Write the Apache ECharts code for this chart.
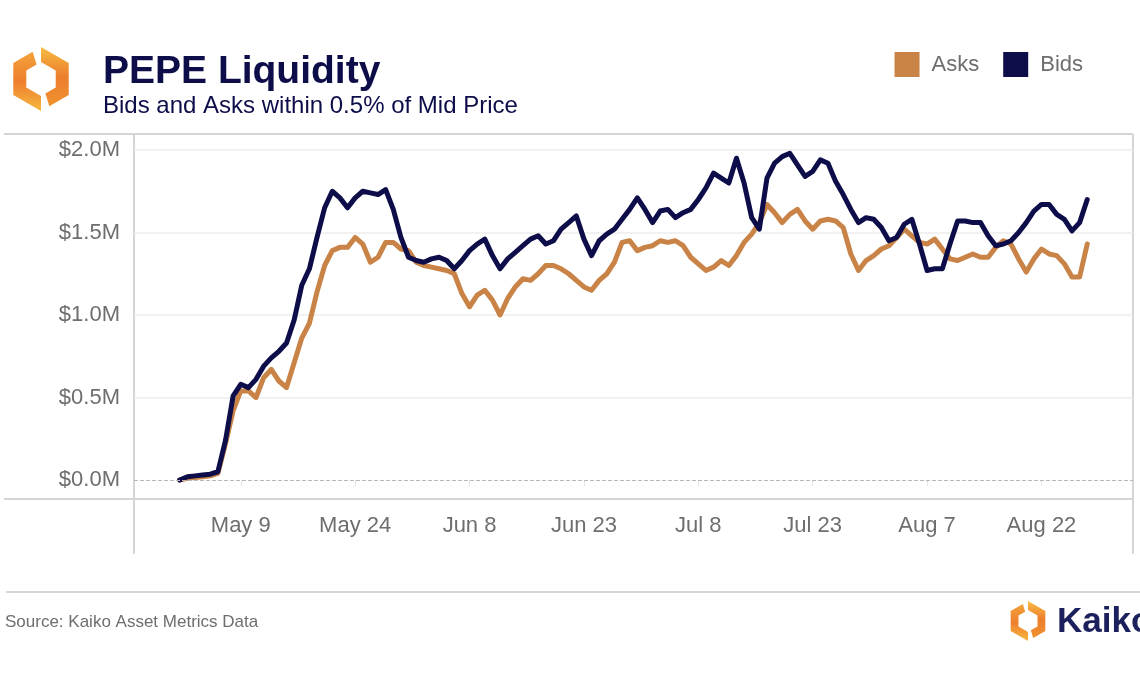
<!DOCTYPE html>
<html>
<head>
<meta charset="utf-8">
<script src="https://cdn.jsdelivr.net/npm/echarts@6/dist/echarts.min.js"></script>
<style>
html,body{margin:0;padding:0;background:#fff;}
#chart{width:1140px;height:694px;}
</style>
</head>
<body>
<div id="chart"></div>
<script>
// ---- Data (values in $M), daily from 2023-05-01 ----
const startDate = '2023-05-01';
const asks = [
  0.00,0.01,0.015,0.02,0.025,0.04,0.22,0.42,0.54,0.54,
  0.50,0.62,0.67,0.60,0.56,0.71,0.86,0.95,1.14,1.30,
  1.39,1.41,1.41,1.47,1.43,1.32,1.35,1.44,1.44,1.40,
  1.39,1.32,1.30,1.29,1.28,1.27,1.25,1.13,1.05,1.12,
  1.15,1.09,1.00,1.10,1.17,1.22,1.21,1.25,1.30,1.30,
  1.28,1.25,1.21,1.17,1.15,1.21,1.25,1.32,1.44,1.45,
  1.39,1.41,1.42,1.45,1.44,1.45,1.42,1.35,1.31,1.27,
  1.29,1.33,1.30,1.36,1.44,1.49,1.56,1.67,1.62,1.56,
  1.61,1.64,1.57,1.52,1.57,1.58,1.57,1.53,1.37,1.27,
  1.33,1.36,1.40,1.42,1.47,1.52,1.48,1.44,1.43,1.46,
  1.40,1.34,1.33,1.35,1.37,1.35,1.35,1.41,1.45,1.43,
  1.34,1.26,1.34,1.40,1.37,1.36,1.31,1.23,1.23,1.43
];
const bids = [
  0.00,0.02,0.025,0.03,0.035,0.05,0.24,0.51,0.58,0.56,
  0.61,0.69,0.74,0.78,0.83,0.97,1.18,1.28,1.47,1.65,
  1.75,1.71,1.65,1.71,1.75,1.74,1.73,1.76,1.64,1.47,
  1.35,1.33,1.32,1.34,1.35,1.33,1.28,1.33,1.39,1.43,
  1.46,1.36,1.28,1.34,1.38,1.42,1.46,1.48,1.43,1.45,
  1.52,1.56,1.60,1.46,1.36,1.45,1.49,1.52,1.58,1.64,
  1.71,1.64,1.56,1.63,1.64,1.59,1.62,1.64,1.70,1.77,
  1.86,1.83,1.80,1.95,1.80,1.59,1.52,1.83,1.92,1.96,
  1.98,1.91,1.84,1.87,1.94,1.92,1.81,1.73,1.64,1.56,
  1.59,1.58,1.53,1.45,1.47,1.55,1.58,1.43,1.27,1.28,
  1.28,1.43,1.57,1.57,1.56,1.56,1.48,1.42,1.43,1.45,
  1.50,1.56,1.63,1.67,1.67,1.61,1.58,1.51,1.56,1.70
];
const xTickDates = ['2023-05-09','2023-05-24','2023-06-08','2023-06-23','2023-07-08','2023-07-23','2023-08-07','2023-08-22'];
const xTickLabels = ['May 9','May 24','Jun 8','Jun 23','Jul 8','Jul 23','Aug 7','Aug 22'];
const xRange = ['2023-04-25','2023-09-03'];
const yTicks = [0, 0.5, 1.0, 1.5, 2.0];

// ---- helpers: x is measured in days since startDate ----
const DAY = 86400000;
function ts(s){ const p = s.split('-').map(Number); return Date.UTC(p[0], p[1]-1, p[2]); }
const t0 = ts(startDate);
const dayOf = s => Math.round((ts(s) - t0) / DAY);
const asksData = asks.map((v,i)=>[i, v]);
const bidsData = bids.map((v,i)=>[i, v]);
const tickDays = xTickDates.map(dayOf);

const FONT = 'Liberation Sans, Arial, Helvetica, sans-serif';
const NAVY = '#0d0d4a';
const ORANGE = '#c98347';
const FRAME = '#d5d5d5';

function logo(cx, cy, R, r){
  const ang = [-90,-30,30,90,150,210].map(a=>a*Math.PI/180);
  const O = ang.map(a=>[cx+R*Math.cos(a), cy+R*Math.sin(a)]);
  const I = ang.map(a=>[cx+r*Math.cos(a), cy+r*Math.sin(a)]);
  const lerp=(a,b,t)=>[a[0]+(b[0]-a[0])*t, a[1]+(b[1]-a[1])*t];
  const P = lerp(O[0],O[5],0.3), Q = lerp(I[0],I[5],0.3);
  const left = [P,O[5],O[4],O[3],I[3],I[4],I[5],Q];
  const Po = lerp(O[2],O[3],0.7), Qi = lerp(I[2],I[3],0.7);
  const right = [O[0],O[1],O[2],Po,Qi,I[2],I[1],I[0]];
  return [
    {type:'polygon', shape:{points:left}, style:{fill:{type:'linear',x:0,y:0,x2:0,y2:1,colorStops:[{offset:0,color:'#f3a23a'},{offset:0.5,color:'#ee7f2e'},{offset:1,color:'#f6b840'}]}}},
    {type:'polygon', shape:{points:right}, style:{fill:{type:'linear',x:0,y:0,x2:0,y2:1,colorStops:[{offset:0,color:'#f7bd44'},{offset:0.5,color:'#ec7d2c'},{offset:1,color:'#f0932f'}]}}}
  ];
}

const chart = echarts.init(document.getElementById('chart'), null, {renderer:'canvas'});
const option = {
  animation: false,
  backgroundColor: '#ffffff',
  title: {
    text: 'PEPE Liquidity',
    subtext: 'Bids and Asks within 0.5% of Mid Price',
    left: 98, top: 48,
    itemGap: 2,
    textStyle: {fontFamily: FONT, fontSize: 39, fontWeight: 'bold', color: NAVY},
    subtextStyle: {fontFamily: FONT, fontSize: 24, color: NAVY}
  },
  legend: {
    data: ['Asks','Bids'],
    right: 52, top: 47,
    icon: 'rect',
    itemWidth: 25, itemHeight: 25,
    itemGap: 24,
    textStyle: {fontFamily: FONT, fontSize: 22, color: '#6e6e6e', padding: [0, 0, 0, 7]}
  },
  grid: {left: 134, right: 7, top: 150, bottom: 214, containLabel: false},
  xAxis: {
    type: 'value',
    min: dayOf(xRange[0]), max: dayOf(xRange[1]),
    offset: 19,
    axisLine: {show: false},
    axisTick: {show: true, length: 6, customValues: tickDays, lineStyle:{color:'#e3e3e3', width:1}},
    axisLabel: {
      customValues: tickDays,
      margin: 16,
      fontFamily: FONT, fontSize: 22, color: '#6e6e6e',
      formatter: function(v){ const i = tickDays.indexOf(Math.round(v)); return i>=0 ? xTickLabels[i] : ''; }
    },
    splitLine: {show: false}
  },
  yAxis: {
    type: 'value',
    min: yTicks[0], max: yTicks[yTicks.length-1], interval: 0.5,
    axisLine: {show: false}, axisTick: {show: false},
    axisLabel: {margin: 14, fontFamily: FONT, fontSize: 22, color: '#6e6e6e',
      formatter: v => '$' + v.toFixed(1) + 'M'},
    splitLine: {show: true, lineStyle: {color: ['rgba(0,0,0,0)','#ececec','#ececec','#ececec','#ececec'], width: 1.5}}
  },
  series: [
    {
      name: 'Asks', type: 'line', data: asksData, showSymbol: false, symbol: 'none', clip: false,
      color: ORANGE,
      lineStyle: {color: ORANGE, width: 5, cap: 'round', join: 'round'},
      markLine: {silent: true, symbol: 'none', label: {show: false},
        lineStyle: {type: 'dashed', color: '#b8b8b8', width: 1},
        data: [{yAxis: 0}]}
    },
    {
      name: 'Bids', type: 'line', data: bidsData, showSymbol: false, symbol: 'none', clip: false,
      color: NAVY,
      lineStyle: {color: NAVY, width: 5, cap: 'round', join: 'round'}
    }
  ],
  graphic: [
    {type:'line', shape:{x1:4,y1:134,x2:1133,y2:134}, style:{stroke:FRAME, lineWidth:2}},
    {type:'line', shape:{x1:134,y1:134,x2:134,y2:554}, style:{stroke:FRAME, lineWidth:2}},
    {type:'line', shape:{x1:1133,y1:134,x2:1133,y2:554}, style:{stroke:FRAME, lineWidth:2}},
    {type:'line', shape:{x1:4,y1:499,x2:1133,y2:499}, style:{stroke:FRAME, lineWidth:2}},
    {type:'line', shape:{x1:6,y1:592,x2:1140,y2:592}, style:{stroke:FRAME, lineWidth:2}},
    {type:'text', x:5, y:622, style:{text:'Source: Kaiko Asset Metrics Data', font:'17px ' + FONT, fill:'#6e6e6e', verticalAlign:'middle'}},
    {type:'text', x:1057, y:622, style:{text:'Kaiko', font:'bold 35px ' + FONT, fill:'#1c205c', verticalAlign:'middle'}},
    ...logo(41, 79, 32, 17),
    ...logo(1028, 621, 20, 11)
  ]
};
chart.setOption(option);
</script>
</body>
</html>
